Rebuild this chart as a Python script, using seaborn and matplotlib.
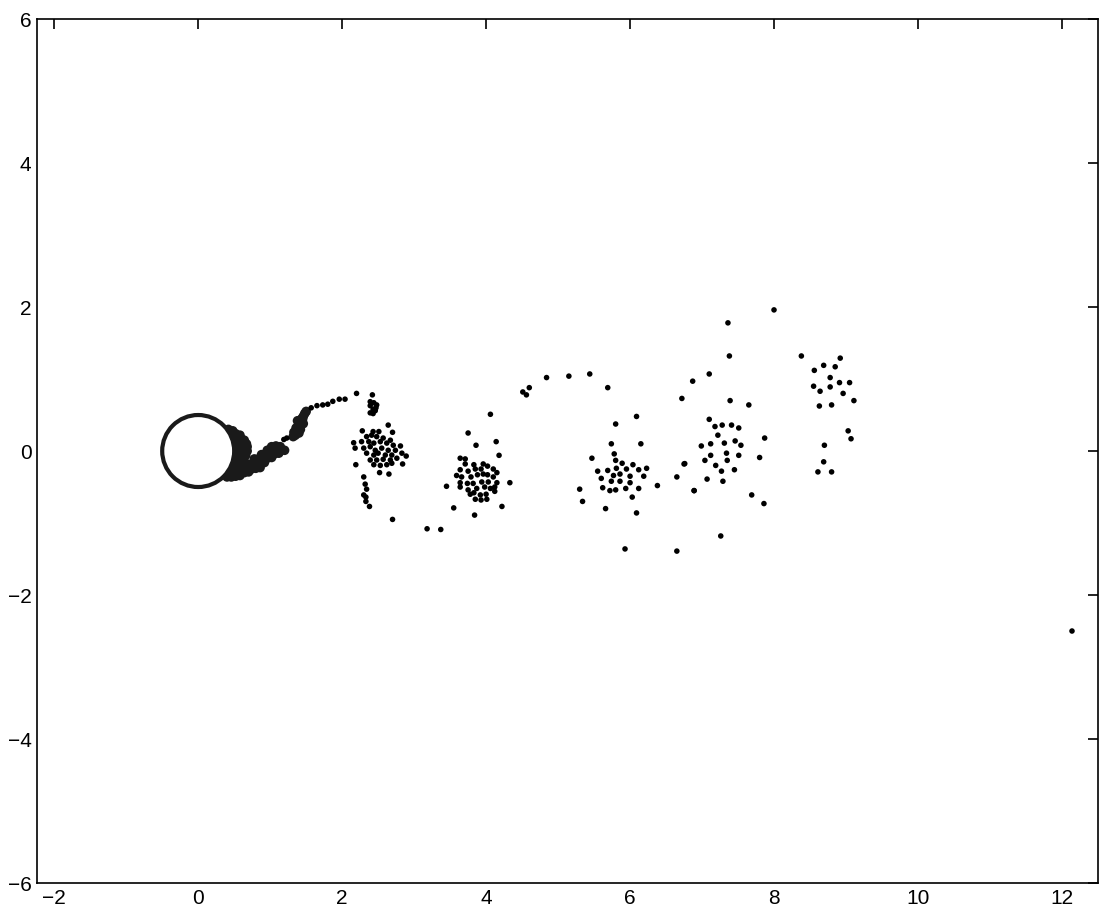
import numpy as np
import pandas as pd
import matplotlib
matplotlib.use("Agg")
import matplotlib.pyplot as plt
from matplotlib.patches import Circle
import seaborn as sns

# cylinder
cyl_center = (0.0, 0.0)
cyl_radius = 0.5

# dense shedding region just behind the cylinder (drawn as overlapping particles)
blob_x = [0.42, 0.48,
          0.46, 0.52, 0.58,
          0.48, 0.54, 0.60, 0.64,
          0.50, 0.56, 0.62, 0.67,
          0.50, 0.56, 0.62, 0.68,
          0.50, 0.56, 0.62, 0.68,
          0.50, 0.56, 0.62, 0.66,
          0.48, 0.54, 0.60, 0.64,
          0.46, 0.52, 0.58, 0.64, 0.70,
          0.44, 0.50, 0.56, 0.62, 0.68,
          0.40, 0.46, 0.52, 0.58, 0.64, 0.70,
          0.40, 0.46, 0.52, 0.58,
          0.74, 0.80, 0.86,
          0.74, 0.80, 0.86, 0.92,
          0.78, 0.84, 0.90, 0.96, 1.02,
          0.88, 0.94, 1.00, 1.06, 1.12,
          0.96, 1.02, 1.08, 1.14, 1.20,
          1.02, 1.08, 1.14]
blob_y = [0.30, 0.28,
          0.24, 0.24, 0.22,
          0.18, 0.18, 0.17, 0.15,
          0.12, 0.12, 0.12, 0.10,
          0.06, 0.06, 0.06, 0.06,
          0.00, 0.00, 0.00, 0.00,
          -0.06, -0.06, -0.06, -0.06,
          -0.12, -0.12, -0.12, -0.14,
          -0.18, -0.18, -0.18, -0.20, -0.22,
          -0.24, -0.24, -0.24, -0.25, -0.26,
          -0.30, -0.30, -0.30, -0.30, -0.30, -0.29,
          -0.36, -0.36, -0.35, -0.34,
          -0.25, -0.24, -0.23,
          -0.18, -0.17, -0.17, -0.16,
          -0.11, -0.11, -0.10, -0.10, -0.09,
          -0.05, -0.05, -0.04, -0.04, -0.03,
          0.01, 0.02, 0.02, 0.02, 0.01,
          0.06, 0.07, 0.06]

# second clump and the trail leading to the first vortex
clump_x = [1.32, 1.35, 1.38, 1.36, 1.40, 1.42, 1.44, 1.46, 1.48, 1.50, 1.42, 1.46, 1.33, 1.38, 1.40, 1.45]
clump_y = [0.20, 0.22, 0.27, 0.32, 0.35, 0.40, 0.45, 0.48, 0.52, 0.55, 0.30, 0.38, 0.26, 0.42, 0.25, 0.44]

trail_x = [1.19, 1.23, 1.57, 1.65, 1.73, 1.80, 1.87, 1.96, 2.04, 2.20, 2.42,
           2.39, 2.44, 2.48, 2.39, 2.43, 2.46, 2.39, 2.43, 2.47]
trail_y = [0.16, 0.18, 0.60, 0.63, 0.64, 0.65, 0.69, 0.72, 0.72, 0.80, 0.78,
           0.685, 0.67, 0.64, 0.63, 0.58, 0.56, 0.53, 0.52, 0.60]

# vortex near x = 2.5
v1_x = [2.64, 2.28, 2.43, 2.51, 2.70, 2.16, 2.18, 2.81, 2.83, 2.89, 2.19, 2.52, 2.65, 2.84,
        2.34, 2.41, 2.48, 2.57, 2.67,
        2.27, 2.37, 2.44, 2.53, 2.62, 2.71,
        2.30, 2.39, 2.46, 2.55, 2.64, 2.74,
        2.34, 2.44, 2.50, 2.60, 2.69,
        2.39, 2.48, 2.57, 2.67, 2.76,
        2.44, 2.53, 2.62, 2.69,
        2.30, 2.32, 2.34, 2.30, 2.33, 2.33, 2.38, 2.70, 3.18, 3.37, 3.45]
v1_y = [0.36, 0.28, 0.27, 0.27, 0.26, 0.115, 0.04, 0.07, -0.03, -0.07, -0.19, -0.30, -0.32, -0.18,
        0.20, 0.22, 0.20, 0.18, 0.15,
        0.13, 0.13, 0.11, 0.13, 0.11, 0.08,
        0.04, 0.06, 0.01, 0.04, 0.01, 0.01,
        -0.03, -0.056, -0.03, -0.056, -0.056,
        -0.125, -0.125, -0.115, -0.125, -0.10,
        -0.19, -0.20, -0.19, -0.17,
        -0.36, -0.46, -0.53, -0.61, -0.64, -0.70, -0.77, -0.95, -1.08, -1.09, -0.49]

# vortex near x = 4
v2_x = [4.06, 3.75, 3.86, 4.14, 4.18, 4.33, 3.55, 3.84, 4.22,
        3.64, 3.71, 3.71, 3.83, 3.96, 4.02,
        3.64, 3.75, 3.85, 3.93, 4.10, 4.15,
        3.59, 3.66, 3.79, 3.88, 3.96, 4.02, 4.10,
        3.64, 3.74, 3.82, 3.94, 4.03, 4.15,
        3.64, 3.75, 3.87, 3.98, 4.06, 4.12,
        3.78, 3.83, 3.92, 4.00, 4.12,
        3.85, 3.93, 4.01,
        4.51, 4.56, 4.60, 4.84, 5.15, 5.44, 5.69]
v2_y = [0.51, 0.25, 0.08, 0.13, -0.06, -0.44, -0.79, -0.89, -0.77,
        -0.10, -0.11, -0.18, -0.19, -0.18, -0.21,
        -0.26, -0.28, -0.25, -0.25, -0.25, -0.30,
        -0.34, -0.36, -0.36, -0.33, -0.32, -0.33, -0.36,
        -0.44, -0.45, -0.45, -0.43, -0.43, -0.44,
        -0.50, -0.54, -0.52, -0.50, -0.52, -0.50,
        -0.60, -0.58, -0.61, -0.60, -0.56,
        -0.67, -0.68, -0.67,
        0.82, 0.78, 0.88, 1.02, 1.04, 1.07, 0.88]

# vortex near x = 6
v3_x = [6.09, 5.80, 5.74, 6.15, 5.47, 5.78, 5.80, 5.89, 6.04,
        5.55, 5.69, 5.81, 5.95, 6.12, 6.23, 5.60, 5.77, 5.86, 6.00, 6.19,
        5.74, 5.86, 6.00, 5.62, 5.72, 5.80, 5.94, 6.12, 6.03, 6.38,
        5.30, 5.34, 5.66, 6.09, 5.93, 6.65, 6.75, 6.65, 6.89]
v3_y = [0.48, 0.375, 0.10, 0.10, -0.10, -0.04, -0.13, -0.17, -0.19,
        -0.28, -0.27, -0.24, -0.25, -0.26, -0.24, -0.38, -0.34, -0.32, -0.35, -0.35,
        -0.42, -0.42, -0.44, -0.51, -0.55, -0.54, -0.52, -0.52, -0.64, -0.48,
        -0.53, -0.70, -0.80, -0.86, -1.36, -1.39, -0.18, -0.36, -0.55]

# vortex near x = 7.3
v4_x = [8.00, 7.36, 7.38, 7.10, 6.87, 6.72, 7.39, 7.65,
        7.10, 7.18, 7.28, 7.41, 7.51, 7.22, 7.87, 6.99, 7.12, 7.31, 7.46, 7.54,
        7.12, 7.34, 7.51, 7.80, 7.04, 7.35, 6.76, 7.19, 7.45, 7.27,
        7.07, 7.29, 6.89, 7.69, 7.86, 7.26]
v4_y = [1.96, 1.78, 1.32, 1.07, 0.97, 0.73, 0.70, 0.64,
        0.44, 0.34, 0.36, 0.36, 0.32, 0.22, 0.18, 0.07, 0.10, 0.11, 0.14, 0.08,
        -0.06, -0.03, -0.06, -0.09, -0.13, -0.13, -0.175, -0.20, -0.26, -0.28,
        -0.39, -0.42, -0.55, -0.61, -0.73, -1.18]

# vortex near x = 8.8 and the lone far particle
v5_x = [8.38, 8.92, 8.69, 8.85, 8.56, 8.78, 8.55, 8.78, 8.91, 9.05, 8.64, 8.96, 9.11,
        8.63, 8.80, 9.03, 9.07, 8.70, 8.69, 8.61, 8.80, 12.14]
v5_y = [1.32, 1.29, 1.19, 1.17, 1.12, 1.02, 0.90, 0.89, 0.95, 0.95, 0.83, 0.80, 0.70,
        0.625, 0.64, 0.28, 0.17, 0.08, -0.15, -0.29, -0.29, -2.50]

dense = pd.DataFrame({"x": blob_x + clump_x, "y": blob_y + clump_y})
sparse = pd.DataFrame({"x": trail_x + v1_x + v2_x + v3_x + v4_x + v5_x,
                       "y": trail_y + v1_y + v2_y + v3_y + v4_y + v5_y})

sns.set_style("white")
plt.rcParams['font.family'] = ['Liberation Sans', 'DejaVu Sans']

fig = plt.figure(figsize=(11, 9.14), dpi=100)
ax = fig.add_axes([0.0336, 0.0339, 0.9645, 0.9453])

sns.scatterplot(data=dense, x="x", y="y", color="#1a1a1a", s=48, edgecolor="none", ax=ax, zorder=2)
sns.scatterplot(data=sparse, x="x", y="y", color="black", s=16, edgecolor="none", ax=ax, zorder=2)

ax.add_patch(Circle(cyl_center, cyl_radius, facecolor="white", edgecolor="#1a1a1a",
                    linewidth=3.0, zorder=3))

ax.set_xlim(-2.24, 12.5)
ax.set_ylim(-6, 6)
ax.set_xticks([-2, 0, 2, 4, 6, 8, 10, 12])
ax.set_yticks([-6, -4, -2, 0, 2, 4, 6])
ax.set_xlabel("")
ax.set_ylabel("")
ax.tick_params(direction="in", length=7, width=1.2, top=True, right=True,
               labelsize=15, colors="black", pad=4)
for sp in ax.spines.values():
    sp.set_color("black")
    sp.set_linewidth(1.2)

fig.savefig("out.png", dpi=100)
